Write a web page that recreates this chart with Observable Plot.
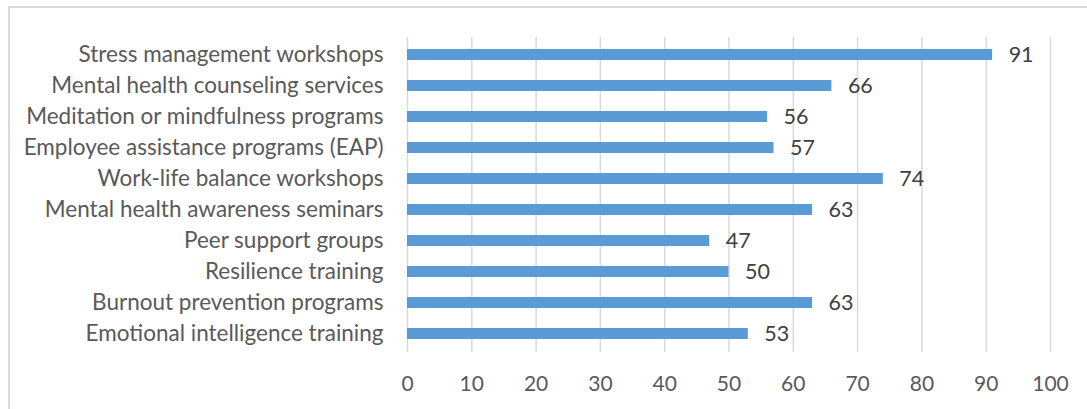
<!DOCTYPE html>
<html>
<head>
<meta charset="utf-8">
<script src="https://cdn.jsdelivr.net/npm/d3@7"></script>
<script src="https://cdn.jsdelivr.net/npm/@observablehq/plot@0.6"></script>
<style>
  html, body { margin: 0; padding: 0; background: #fff; overflow: hidden; width: 1087px; height: 409px; }
  #frame { position: absolute; left: 8px; top: 6px; width: 1200px; height: 500px; border: 2px solid #d9d9d9; box-sizing: border-box; }
  #chart { position: absolute; left: 0; top: 0; }
</style>
</head>
<body>
<div id="frame"></div>
<div id="chart"></div>
<script>
const programs = [
  "Stress management workshops",
  "Mental health counseling services",
  "Meditation or mindfulness programs",
  "Employee assistance programs (EAP)",
  "Work-life balance workshops",
  "Mental health awareness seminars",
  "Peer support groups",
  "Resilience training",
  "Burnout prevention programs",
  "Emotional intelligence training"
];
const values = [91, 66, 56, 57, 74, 63, 47, 50, 63, 53];
const xTicks = [0, 10, 20, 30, 40, 50, 60, 70, 80, 90, 100];

const data = programs.map((p, i) => ({program: p, value: values[i]}));
const font = "Lato, 'Open Sans', sans-serif";

const plot = Plot.plot({
  width: 1087,
  height: 409,
  marginLeft: 407,
  marginRight: 37,
  marginTop: 37,
  marginBottom: 57,
  style: {fontFamily: font, background: "transparent"},
  x: {domain: [0, 100], ticks: xTicks},
  y: {domain: programs, paddingInner: 0.635, paddingOuter: 0.3175},
  marks: [
    Plot.gridX(xTicks, {stroke: "#d9d9d9", strokeOpacity: 1, strokeWidth: 1.5}),
    Plot.barX(data, {x: "value", y: "program", fill: "#5b9bd5"}),
    Plot.text(data, {x: "value", y: "program", text: d => String(d.value), textAnchor: "start", dx: 16, fontSize: 21.5, fill: "#404040"}),
    Plot.axisX(xTicks, {tickSize: 0, tickPadding: 24, fontSize: 21, color: "#595959", label: null}),
    Plot.axisY({tickSize: 0, tickPadding: 24, fontSize: 22.5, color: "#595959", label: null})
  ]
});
document.getElementById("chart").appendChild(plot);
</script>
</body>
</html>
